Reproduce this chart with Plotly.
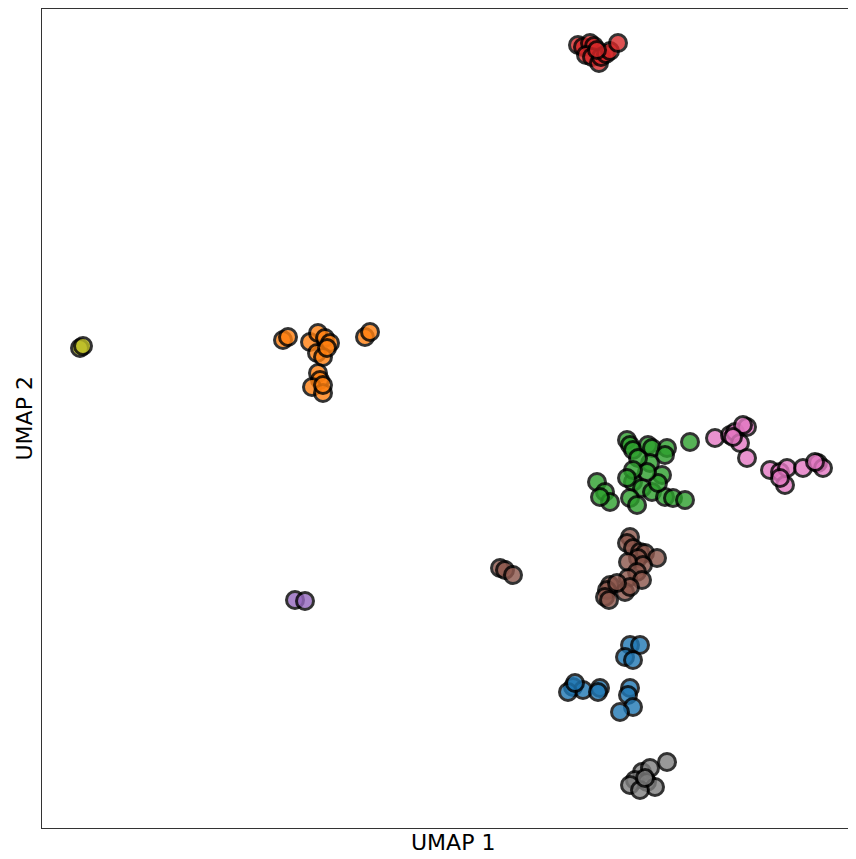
import plotly.graph_objects as go

# ------------------------------------------------------------
# UMAP embedding, one list pair per cluster
# ------------------------------------------------------------
blue_x = [11.76, 11.96, 11.66, 11.82, 10.62, 10.82, 11.16, 10.52, 10.66, 11.12, 11.76, 11.72, 11.82, 11.56]
blue_y = [3.66, 3.66, 3.42, 3.36, 2.82, 2.76, 2.80, 2.72, 2.90, 2.72, 2.80, 2.66, 2.42, 2.32]

orange_x = [4.82, 4.92, 5.36, 5.52, 5.66, 5.76, 5.50, 5.62, 5.70, 5.52, 5.56, 5.40, 5.62, 5.62, 6.46, 6.56]
orange_y = [9.76, 9.82, 9.72, 9.90, 9.80, 9.70, 9.50, 9.42, 9.60, 9.10, 8.96, 8.82, 8.70, 8.86, 9.82, 9.92]

green_x = [11.70, 11.76, 11.82, 12.12, 12.20, 12.50, 12.46, 12.16, 11.92, 12.96, 11.10, 11.26, 11.36, 11.16,
           11.82, 12.00, 12.20, 12.40, 11.76, 11.90, 12.46, 12.62, 12.86, 12.32, 12.10, 11.82, 11.70]
green_y = [7.76, 7.66, 7.56, 7.66, 7.60, 7.60, 7.46, 7.30, 7.40, 7.72, 6.92, 6.72, 6.52, 6.62,
           6.92, 6.80, 6.72, 7.06, 6.60, 6.46, 6.62, 6.60, 6.56, 6.90, 7.12, 7.16, 7.00]

red_x = [10.72, 10.82, 10.96, 11.04, 10.88, 11.00, 11.14, 11.18, 11.28, 11.36, 11.52, 11.10]
red_y = [15.66, 15.62, 15.70, 15.64, 15.46, 15.42, 15.30, 15.42, 15.48, 15.54, 15.70, 15.56]

purple_x = [5.06, 5.26]
purple_y = [4.56, 4.54]

brown_x = [9.16, 9.26, 9.42, 11.76, 11.70, 11.82, 11.96, 12.06, 12.30, 11.92, 12.02, 11.72, 11.90,
           11.72, 12.00, 11.36, 11.30, 11.26, 11.34, 11.66, 11.76, 11.50]
brown_y = [5.20, 5.16, 5.06, 5.82, 5.70, 5.60, 5.52, 5.50, 5.40, 5.40, 5.26, 5.32, 5.12,
           5.00, 4.96, 4.86, 4.76, 4.62, 4.56, 4.72, 4.82, 4.90]

pink_x = [13.46, 13.76, 13.86, 14.10, 14.02, 13.96, 14.10, 13.82, 14.56, 14.76, 14.86, 14.90,
          15.22, 15.52, 15.62, 15.46, 14.76]
pink_y = [7.80, 7.86, 7.92, 8.02, 8.06, 7.70, 7.40, 7.82, 7.16, 7.12, 6.86, 7.20,
          7.20, 7.30, 7.20, 7.32, 7.00]

gray_x = [12.50, 12.00, 12.16, 11.86, 12.10, 11.76, 12.26, 11.96, 12.06]
gray_y = [1.32, 1.12, 1.20, 0.96, 0.92, 0.86, 0.82, 0.76, 1.00]

olive_x = [0.76, 0.82]
olive_y = [9.60, 9.64]

clusters = [
    (blue_x, blue_y, "#1f77b4"),
    (orange_x, orange_y, "#ff7f0e"),
    (green_x, green_y, "#2ca02c"),
    (red_x, red_y, "#d62728"),
    (purple_x, purple_y, "#9467bd"),
    (brown_x, brown_y, "#8c564b"),
    (pink_x, pink_y, "#e377c2"),
    (gray_x, gray_y, "#7f7f7f"),
    (olive_x, olive_y, "#bcbd22"),
]

fig = go.Figure()
for xs, ys, col in clusters:
    fig.add_trace(go.Scatter(
        x=xs, y=ys, mode="markers",
        marker=dict(size=17, color=col, opacity=0.8,
                    line=dict(color="black", width=3)),
        showlegend=False, hoverinfo="skip",
    ))

font = dict(family="DejaVu Sans", size=22, color="black")

# page has an 8px body margin, so the figure is sized to fit the 856x859 window
fig.update_layout(
    width=840, height=843,
    margin=dict(l=34, r=0, t=1, b=23),
    plot_bgcolor="white", paper_bgcolor="white",
    xaxis=dict(range=[0, 16.12], showgrid=False, zeroline=False, showticklabels=False,
               ticks="", showline=True, linecolor="#333", linewidth=1, mirror=True),
    yaxis=dict(range=[0, 16.38], showgrid=False, zeroline=False, showticklabels=False,
               ticks="", showline=True, linecolor="#333", linewidth=1),
    annotations=[
        dict(text="UMAP 1", xref="paper", yref="paper", x=0.51, y=-0.0171,
             xanchor="center", yanchor="middle", showarrow=False, font=font),
        dict(text="UMAP 2", xref="paper", yref="paper", x=-0.0211, y=0.5,
             xanchor="center", yanchor="middle", textangle=-90, showarrow=False, font=font),
    ],
)

fig.write_html("out.html")
